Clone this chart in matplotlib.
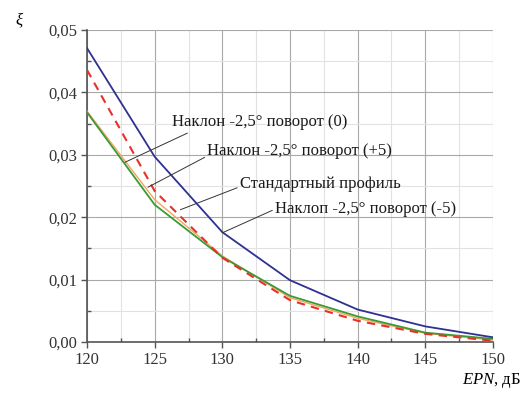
import matplotlib
matplotlib.use("Agg")
import matplotlib.pyplot as plt
from matplotlib.ticker import MultipleLocator, FuncFormatter

plt.rcParams['font.family'] = ['Liberation Serif', 'DejaVu Serif']
plt.rcParams['mathtext.fontset'] = 'custom'
plt.rcParams['mathtext.it'] = 'Liberation Serif:italic'
plt.rcParams['mathtext.rm'] = 'Liberation Serif'

epn = [120, 125, 130, 135, 140, 145, 150]
tilt_rot_m5 = [0.0471, 0.0297, 0.0176, 0.0099, 0.0052, 0.0025, 0.00075]   # blue
tilt_rot_p5 = [0.0436, 0.0242, 0.0135, 0.0067, 0.0034, 0.0013, 0.0002]   # red dashed
tilt_rot_0 = [0.0368, 0.0220, 0.0136, 0.0074, 0.0041, 0.0015, 0.0005]    # green
standard = [0.0370, 0.0228, 0.0138, 0.0071, 0.0038, 0.0014, 0.0003]      # orange

xticks = [120, 125, 130, 135, 140, 145, 150]
yticks = [0.00, 0.01, 0.02, 0.03, 0.04, 0.05]

fig = plt.figure(figsize=(5.28, 3.98), dpi=100)
ax = fig.add_axes([0.1648, 0.1407, 0.9337 - 0.1648, 0.9246 - 0.1407])

ax.plot(epn, standard, color='#f2a65e', lw=1.0, zorder=3)
ax.plot(epn, tilt_rot_0, color='#3a9a35', lw=1.3, zorder=4)
ax.plot(epn, tilt_rot_p5, color='#e8302a', lw=1.5, ls=(0, (4, 3)), zorder=5)
ax.plot(epn, tilt_rot_m5, color='#2e3192', lw=1.3, zorder=6)

ax.set_xlim(120, 150)
ax.set_ylim(0, 0.05)
ax.set_xticks(xticks)
ax.set_yticks(yticks)
ax.xaxis.set_minor_locator(MultipleLocator(2.5))
ax.yaxis.set_minor_locator(MultipleLocator(0.005))
ax.yaxis.set_major_formatter(FuncFormatter(lambda v, p: f"{v:.2f}".replace('.', ',')))
ax.xaxis.set_major_formatter(FuncFormatter(lambda v, p: f"{v:.0f}"))

ax.grid(which='major', color='#a8a8a8', lw=0.8)
ax.grid(which='minor', color='#e2e2e2', lw=0.8)
ax.set_axisbelow(True)

for s in ['top', 'right']:
    ax.spines[s].set_visible(False)
for s in ['left', 'bottom']:
    ax.spines[s].set_color('#555555')
    ax.spines[s].set_linewidth(1.2)

ax.tick_params(which='major', direction='out', length=4, width=1, color='#555555',
               labelsize=12, labelcolor='#333333', pad=3)
ax.tick_params(which='minor', direction='in', length=3, width=1, color='#555555')

labels = [
    ("Наклон -2,5° поворот (0)", (126.3, 0.0352), (122.8, 0.0288), (0.12, 0.0)),
    ("Наклон -2,5° поворот (+5)", (128.9, 0.0306), (124.5, 0.0248), (0.0, 0.2)),
    ("Стандартный профиль", (131.3, 0.0254), (126.9, 0.0212), (0.0, 0.3)),
    ("Наклоп -2,5° поворот (-5)", (133.9, 0.0213), (130.0, 0.0175), (0.0, 0.5)),
]
for txt, xyt, xy, rp in labels:
    ax.annotate(txt, xy=xy, xytext=xyt, textcoords='data', ha='left', va='center',
                fontsize=12, color='#1a1a1a', zorder=8,
                arrowprops=dict(arrowstyle='-', color='#333333', lw=0.7,
                                shrinkA=0, shrinkB=0, relpos=rp))

fig.text(15 / 528, 1 - 20 / 398, "ξ", fontsize=12, style='italic', ha='left', va='center')
fig.text(1 - 7 / 528, 1 - 381 / 398, "$EPN$, дБ", fontsize=12, ha='right', va='center')

fig.savefig("out.png", dpi=100)
